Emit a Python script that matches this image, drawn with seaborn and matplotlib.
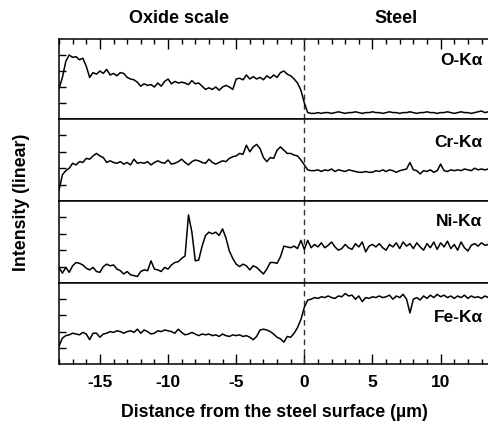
import numpy as np
import pandas as pd
import matplotlib
matplotlib.use("Agg")
import matplotlib.pyplot as plt
from matplotlib.ticker import MultipleLocator
import seaborn as sns

# Sampling positions of the EDS line scan (µm from the steel surface)
distance = np.round(np.arange(-18.0, 13.5001, 0.25), 2)

elements = ["O-Kα", "Cr-Kα", "Ni-Kα", "Fe-Kα"]

# Normalised intensities (linear), one list per element line
o_ka = [
    0.38, 0.52, 0.72, 0.80, 0.77, 0.78, 0.74, 0.76,
    0.66, 0.52, 0.58, 0.56, 0.60, 0.57, 0.62, 0.55,
    0.57, 0.54, 0.58, 0.57, 0.52, 0.50, 0.49, 0.46,
    0.41, 0.44, 0.42, 0.43, 0.40, 0.45, 0.41, 0.47,
    0.50, 0.44, 0.47, 0.45, 0.46, 0.45, 0.43, 0.48,
    0.44, 0.45, 0.41, 0.37, 0.39, 0.37, 0.40, 0.36,
    0.40, 0.42, 0.40, 0.37, 0.50, 0.51, 0.49, 0.55,
    0.50, 0.53, 0.50, 0.52, 0.49, 0.54, 0.51, 0.55,
    0.52, 0.58, 0.60, 0.56, 0.54, 0.50, 0.45, 0.36,
    0.20, 0.08, 0.07,
    0.07, 0.08, 0.07, 0.08, 0.08, 0.07, 0.08, 0.09,
    0.08, 0.07, 0.08, 0.08, 0.09, 0.08, 0.07, 0.08,
    0.08, 0.09, 0.08, 0.08, 0.07, 0.08, 0.09, 0.08,
    0.08, 0.07, 0.08, 0.08, 0.09, 0.08, 0.07, 0.08,
    0.08, 0.09, 0.08, 0.08, 0.07, 0.08, 0.08, 0.09,
    0.08, 0.07, 0.08, 0.09, 0.08, 0.08, 0.07, 0.08,
    0.09, 0.10, 0.08, 0.09,
]

cr_ka = [
    0.13, 0.32, 0.37, 0.40, 0.46, 0.44, 0.48, 0.47,
    0.52, 0.51, 0.55, 0.58, 0.55, 0.53, 0.47, 0.49,
    0.47, 0.46, 0.48, 0.45, 0.47, 0.44, 0.51, 0.46,
    0.47, 0.46, 0.48, 0.44, 0.47, 0.49, 0.47, 0.46,
    0.50, 0.45, 0.46, 0.48, 0.51, 0.47, 0.44, 0.48,
    0.50, 0.49, 0.47, 0.46, 0.51, 0.47, 0.45, 0.47,
    0.49, 0.48, 0.52, 0.54, 0.55, 0.58, 0.57, 0.68,
    0.60, 0.66, 0.69, 0.64, 0.53, 0.48, 0.53, 0.52,
    0.62, 0.66, 0.62, 0.58, 0.58, 0.56, 0.55, 0.50,
    0.44, 0.38, 0.37,
    0.37, 0.38, 0.36, 0.38, 0.37, 0.39, 0.36, 0.38,
    0.37, 0.36, 0.38, 0.37, 0.36, 0.35, 0.35, 0.36,
    0.35, 0.35, 0.37, 0.36, 0.38, 0.36, 0.38, 0.37,
    0.35, 0.37, 0.38, 0.39, 0.47, 0.38, 0.37, 0.33,
    0.37, 0.36, 0.38, 0.35, 0.37, 0.45, 0.37, 0.36,
    0.38, 0.37, 0.38, 0.37, 0.39, 0.38, 0.37, 0.40,
    0.38, 0.39, 0.38, 0.39,
]

ni_ka = [
    0.19, 0.12, 0.19, 0.13, 0.21, 0.25, 0.24, 0.22,
    0.18, 0.16, 0.19, 0.14, 0.13, 0.20, 0.23, 0.21,
    0.22, 0.17, 0.15, 0.11, 0.14, 0.10, 0.09, 0.08,
    0.14, 0.16, 0.15, 0.27, 0.17, 0.16, 0.14, 0.19,
    0.17, 0.22, 0.25, 0.26, 0.30, 0.33, 0.83, 0.62,
    0.27, 0.28, 0.45, 0.58, 0.62, 0.60, 0.62, 0.58,
    0.66, 0.55, 0.39, 0.30, 0.23, 0.20, 0.23, 0.21,
    0.16, 0.21, 0.19, 0.15, 0.11, 0.17, 0.25, 0.25,
    0.24, 0.32, 0.45, 0.44, 0.43, 0.45, 0.42, 0.52,
    0.41, 0.52, 0.43,
    0.47, 0.44, 0.49, 0.43, 0.46, 0.50, 0.44, 0.40,
    0.42, 0.47, 0.43, 0.41, 0.48, 0.44, 0.50, 0.38,
    0.45, 0.47, 0.44, 0.48, 0.43, 0.40, 0.47, 0.44,
    0.49, 0.42, 0.50, 0.45, 0.48, 0.42, 0.49, 0.44,
    0.40, 0.48, 0.43, 0.50, 0.41, 0.49, 0.44, 0.51,
    0.42, 0.47, 0.40, 0.50, 0.43, 0.39, 0.46, 0.48,
    0.45, 0.49, 0.46, 0.47,
]

fe_ka = [
    0.22, 0.32, 0.35, 0.36, 0.38, 0.37, 0.36, 0.39,
    0.37, 0.30, 0.38, 0.38, 0.33, 0.37, 0.38, 0.40,
    0.39, 0.41, 0.40, 0.38, 0.40, 0.41, 0.39, 0.43,
    0.38, 0.42, 0.40, 0.37, 0.38, 0.41, 0.40, 0.42,
    0.41, 0.40, 0.38, 0.43, 0.39, 0.36, 0.37, 0.39,
    0.37, 0.35, 0.37, 0.36, 0.37, 0.35, 0.36, 0.34,
    0.37, 0.35, 0.34, 0.36, 0.35, 0.36, 0.34, 0.35,
    0.33, 0.30, 0.34, 0.42, 0.43, 0.42, 0.40, 0.37,
    0.33, 0.31, 0.27, 0.34, 0.33, 0.38, 0.45, 0.55,
    0.70, 0.79, 0.80,
    0.82, 0.81, 0.83, 0.82, 0.84, 0.82, 0.81, 0.84,
    0.83, 0.87, 0.84, 0.85, 0.80, 0.84, 0.77, 0.82,
    0.81, 0.83, 0.82, 0.84, 0.82, 0.83, 0.85, 0.80,
    0.84, 0.82, 0.86, 0.80, 0.63, 0.80, 0.82, 0.79,
    0.84, 0.81, 0.85, 0.82, 0.86, 0.83, 0.85, 0.82,
    0.84, 0.81, 0.84, 0.82, 0.85, 0.81, 0.84, 0.82,
    0.83, 0.81, 0.84, 0.82,
]

series = [o_ka, cr_ka, ni_ka, fe_ka]
label_heights = [0.675, 0.66, 0.69, 0.515]

frames = []
for name, vals in zip(elements, series):
    assert len(vals) == len(distance), (name, len(vals))
    frames.append(pd.DataFrame({"distance": distance, "intensity": vals, "element": name}))
scan = pd.concat(frames, ignore_index=True)

sns.set_style("ticks")
plt.rcParams["font.family"] = ["Liberation Sans", "DejaVu Sans"]
plt.rcParams["font.weight"] = "bold"
plt.rcParams["axes.unicode_minus"] = False
plt.rcParams["text.color"] = "black"
plt.rcParams["axes.labelcolor"] = "black"
plt.rcParams["xtick.color"] = "black"
plt.rcParams["ytick.color"] = "black"

W, H = 489, 422
fig = plt.figure(figsize=(W / 100, H / 100), dpi=100)

# panel edges in pixels from the top of the figure
edges = [39, 119, 201, 283, 364]
left_px = 59
axes = []
for i in range(4):
    top, bottom = edges[i], edges[i + 1]
    ax = fig.add_axes([left_px / W, 1 - bottom / H, 1 - left_px / W, (bottom - top) / H])
    axes.append(ax)

for i, (ax, name) in enumerate(zip(axes, elements)):
    sub = scan[scan["element"] == name]
    sns.lineplot(data=sub, x="distance", y="intensity", ax=ax, color="black",
                 linewidth=1.1, estimator=None, legend=False)
    ax.axvline(0, color="#333333", linewidth=1.0, linestyle=(0, (4, 3)), zorder=1)
    ax.set_xlim(-18, 13.55)
    ax.set_ylim(0, 1)
    ax.set_xlabel("")
    ax.set_ylabel("")
    ax.set_yticks([0.2, 0.4, 0.6, 0.8])
    ax.tick_params(axis="y", direction="in", length=5, width=1.0, labelleft=False, color="black")
    ax.xaxis.set_major_locator(MultipleLocator(5))
    ax.xaxis.set_minor_locator(MultipleLocator(1))
    ax.tick_params(axis="x", which="major", direction="in", length=7, width=1.0,
                   color="black", labelcolor="black")
    ax.tick_params(axis="x", which="minor", direction="in", length=3.5, width=1.0, color="black")
    is_top = i == 0
    is_bottom = i == 3
    ax.tick_params(axis="x", which="both", top=is_top, bottom=is_bottom,
                   labeltop=False, labelbottom=is_bottom)
    for side in ["left", "top", "bottom"]:
        ax.spines[side].set_linewidth(1.1)
        ax.spines[side].set_color("black")
    ax.spines["right"].set_visible(False)
    ax.text(0.985, label_heights[i], name, transform=ax.transAxes, ha="right",
            va="baseline", fontsize=12.5, fontweight="bold", color="black")

axes[-1].tick_params(axis="x", labelsize=12.5, pad=8)
for lab in axes[-1].get_xticklabels():
    lab.set_fontweight("bold")
axes[-1].set_xlabel("Distance from the steel surface (µm)", fontsize=12.8,
                    fontweight="bold", labelpad=10, color="black")

fig.text(22 / W, 1 - 202 / H, "Intensity (linear)", rotation=90, ha="center",
         va="center", fontsize=12.8, fontweight="bold", color="black")

top_ax = axes[0]
top_ax.text(-9.2, 1.2, "Oxide scale", transform=top_ax.get_xaxis_transform(),
            ha="center", va="baseline", fontsize=13, fontweight="bold",
            color="black", clip_on=False)
top_ax.text(6.7, 1.2, "Steel", transform=top_ax.get_xaxis_transform(),
            ha="center", va="baseline", fontsize=13, fontweight="bold",
            color="black", clip_on=False)

fig.savefig("out.png", dpi=100)
